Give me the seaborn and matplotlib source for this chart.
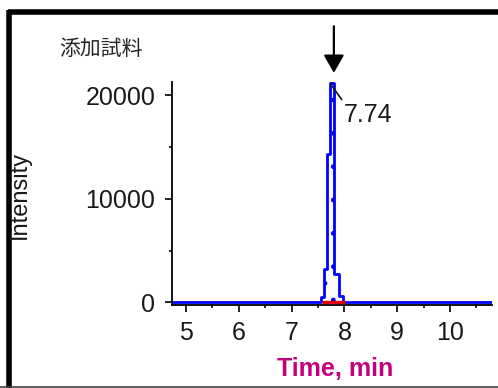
import matplotlib
matplotlib.use('Agg')
import matplotlib.pyplot as plt
import seaborn as sns
from matplotlib.lines import Line2D
from matplotlib.ticker import MultipleLocator

# chromatogram trace
scan_time = [4.73, 7.52, 7.58, 7.64, 7.70, 7.765, 7.84, 7.94, 8.02, 10.8]
intensity = [0, 0, 480, 3190, 14300, 21160, 2700, 580, 0, 0]

# integration limits and apex label
peak_start = 7.58
peak_end = 8.01
peak_rt = 7.74
peak_height = 21160

x_ticks = [5, 6, 7, 8, 9, 10]
y_ticks = [0, 10000, 20000]

sns.set_style('ticks')
num_font = ['Liberation Sans', 'DejaVu Sans']

fig = plt.figure(figsize=(4.98, 3.88), dpi=100)
ax = fig.add_axes([0.3454, 0.2139, 0.988 - 0.3454, 0.7887 - 0.2139])

# dotted area under the peak
ax.fill_between(scan_time, intensity, step='mid', facecolor='none',
                edgecolor='#0000ff', hatch='.', linewidth=0)
sns.lineplot(x=scan_time, y=intensity, drawstyle='steps-mid', color='#0000ff',
             lw=2, ax=ax, estimator=None, sort=True)
ax.plot([peak_start, peak_end], [0, 0], color='#e00000', lw=2.4,
        solid_capstyle='butt', zorder=5)

ax.set_xlim(4.735, 10.795)
ax.set_ylim(-250, 21300)
ax.set_xticks(x_ticks)
ax.set_yticks(y_ticks)
ax.xaxis.set_minor_locator(MultipleLocator(0.5))
ax.yaxis.set_minor_locator(MultipleLocator(5000))
ax.set_xlabel('')
ax.set_ylabel('')

for s in ['top', 'right']:
    ax.spines[s].set_visible(False)
for s in ['left', 'bottom']:
    ax.spines[s].set_color('black')
    ax.spines[s].set_linewidth(1.3)

ax.tick_params(axis='both', which='major', direction='out', length=5, width=1.2,
               color='black', labelcolor='#1a1a1a', labelsize=18)
ax.tick_params(axis='x', which='major', pad=6.5)
ax.tick_params(axis='y', which='major', pad=7)
ax.tick_params(axis='both', which='minor', direction='out', length=2.5, width=1.2,
               color='black')
for lab in ax.get_xticklabels() + ax.get_yticklabels():
    lab.set_family(num_font)

# apex label with leader line
ax.annotate(f'{peak_rt:.2f}', xy=(peak_rt - 0.01, peak_height), xytext=(10, -14),
            textcoords='offset points', ha='left', va='top', fontsize=18,
            family=num_font, color='#1a1a1a', annotation_clip=False,
            arrowprops=dict(arrowstyle='-', color='#1a1a1a', lw=1.2,
                            relpos=(0, 1), shrinkA=0, shrinkB=0))

# marker arrow above the peak
ax.annotate('', xy=(7.80, 1.041), xytext=(7.80, 1.25),
            xycoords=('data', 'axes fraction'), textcoords=('data', 'axes fraction'),
            annotation_clip=False,
            arrowprops=dict(arrowstyle='-|>,head_length=0.54,head_width=0.31',
                            mutation_scale=20, color='black', lw=1.6,
                            shrinkA=0, shrinkB=0))

fig.text(59 / 498, 1 - 49 / 388, '添加試料', fontsize=15,
         family=['Noto Sans CJK JP', 'DejaVu Sans'], ha='left', va='center')
fig.text(20 / 498, 1 - 195 / 388, 'Intensity', fontsize=17, rotation=90,
         family=['Liberation Sans', 'DejaVu Sans'], ha='center', va='center',
         color='#1a1a1a')
fig.text(335 / 498, 1 - 369 / 388, 'Time, min', fontsize=18, fontweight='bold',
         family=['Liberation Sans', 'DejaVu Sans'], ha='center', va='center',
         color='#c4007c')

# frame around the picture
fig.add_artist(Line2D([8 / 498, 1], [1 - 12 / 388] * 2, color='black', lw=4,
                      transform=fig.transFigure, solid_capstyle='butt'))
fig.add_artist(Line2D([9 / 498] * 2, [0, 1 - 10 / 388], color='black', lw=4,
                      transform=fig.transFigure, solid_capstyle='butt'))
fig.add_artist(Line2D([0, 1], [1.5 / 388] * 2, color='#444444', lw=1.2,
                      transform=fig.transFigure))

fig.savefig('out.png', dpi=100)
